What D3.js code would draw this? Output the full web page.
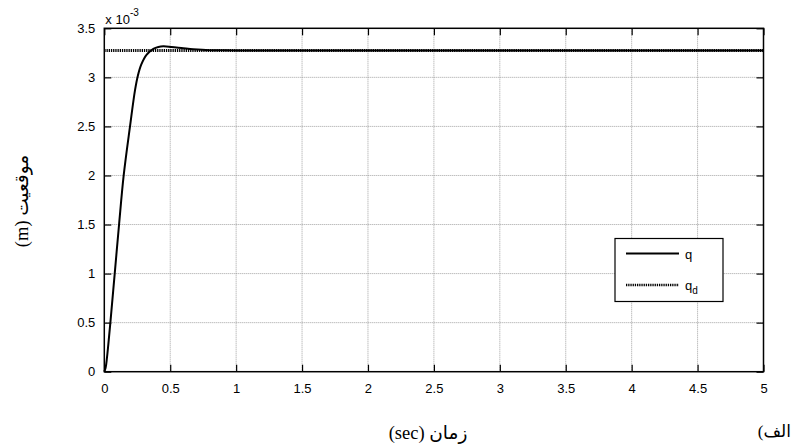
<!DOCTYPE html>
<html>
<head>
<meta charset="utf-8">
<script src="https://cdn.jsdelivr.net/npm/d3@7"></script>
<style>
  body { margin: 0; background: #fff; }
  svg { display: block; }
  .tick text { font-family: "Liberation Sans", Arial, sans-serif; font-size: 13px; fill: #000; }
</style>
</head>
<body>
<figure id="plot" style="margin:0"></figure>
<script>
// time (s) and position (x 1e-3 m)
const time = [0, 0.01, 0.02, 0.03, 0.046, 0.079, 0.112, 0.147, 0.195, 0.233, 0.255, 0.28, 0.32, 0.372, 0.41, 0.448, 0.51, 0.6, 0.675, 0.8, 1.0, 5];
const qValues = [0, 0.04, 0.14, 0.27, 0.5, 1.0, 1.5, 2.0, 2.5, 2.87, 3.02, 3.13, 3.23, 3.29, 3.31, 3.317, 3.31, 3.297, 3.287, 3.277, 3.275, 3.275];
const qdTime = [0, 5];
const qdValues = [3.275, 3.275];
const xTicks = [0, 0.5, 1, 1.5, 2, 2.5, 3, 3.5, 4, 4.5, 5];
const yTicks = [0, 0.5, 1, 1.5, 2, 2.5, 3, 3.5];
const legendLabels = ['q', 'q'];

const width = 792, height = 448;
const marginLeft = 104.3, marginRight = 28.5, marginTop = 28.3, marginBottom = 76.3;

const svg = d3.select('figure#plot')
  .append('svg')
  .attr('width', width)
  .attr('height', height);

const x = d3.scaleLinear().domain([0, 5]).range([marginLeft, width - marginRight]);
const y = d3.scaleLinear().domain([0, 3.5]).range([height - marginBottom, marginTop]);

// grid
const grid = svg.append('g')
  .attr('stroke', '#8a8a8a')
  .attr('stroke-width', 0.8)
  .attr('stroke-dasharray', '1,1');
grid.selectAll('line.gx')
  .data(xTicks.slice(1, -1))
  .join('line')
  .attr('x1', d => x(d)).attr('x2', d => x(d))
  .attr('y1', y(0)).attr('y2', y(3.5));
grid.selectAll('line.gy')
  .data(yTicks.slice(1, -1))
  .join('line')
  .attr('class', 'gy')
  .attr('x1', x(0)).attr('x2', x(5))
  .attr('y1', d => y(d)).attr('y2', d => y(d));

// axes with inward ticks
const fmt = d => String(d);
svg.append('g')
  .attr('transform', `translate(0, ${y(0)})`)
  .call(d3.axisBottom(x).tickValues(xTicks).tickFormat(fmt).tickSize(-7).tickPadding(12).tickSizeOuter(0))
  .call(g => g.select('.domain').remove());
svg.append('g')
  .attr('transform', `translate(${x(0)}, 0)`)
  .call(d3.axisLeft(y).tickValues(yTicks).tickFormat(fmt).tickSize(-7).tickPadding(9).tickSizeOuter(0))
  .call(g => g.select('.domain').remove());
svg.append('g')
  .attr('transform', `translate(0, ${y(3.5)})`)
  .call(d3.axisTop(x).tickValues(xTicks).tickFormat('').tickSize(-7).tickSizeOuter(0))
  .call(g => g.select('.domain').remove());
svg.append('g')
  .attr('transform', `translate(${x(5)}, 0)`)
  .call(d3.axisRight(y).tickValues(yTicks).tickFormat('').tickSize(-7).tickSizeOuter(0))
  .call(g => g.select('.domain').remove());
svg.selectAll('.tick line').attr('stroke', '#000').attr('stroke-width', 1.2);

// frame
svg.append('rect')
  .attr('x', x(0)).attr('y', y(3.5))
  .attr('width', x(5) - x(0)).attr('height', y(0) - y(3.5))
  .attr('fill', 'none').attr('stroke', '#000').attr('stroke-width', 1.5);

// exponent
const expo = svg.append('text')
  .attr('x', x(0) + 1).attr('y', y(3.5) - 4)
  .attr('font-family', '"Liberation Sans", Arial, sans-serif')
  .attr('font-size', 13);
expo.append('tspan').text('x 10');
expo.append('tspan').attr('dy', -8).attr('font-size', 10).text('-3');

// lines
svg.append('path')
  .datum(qdTime.map((t, i) => [t, qdValues[i]]))
  .attr('fill', 'none')
  .attr('stroke', '#000')
  .attr('stroke-width', 3)
  .attr('stroke-dasharray', '1.3,0.9')
  .attr('d', d3.line().x(d => x(d[0])).y(d => y(d[1])));

svg.append('path')
  .datum(time.map((t, i) => [t, qValues[i]]))
  .attr('fill', 'none')
  .attr('stroke', '#000')
  .attr('stroke-width', 2)
  .attr('d', d3.line().curve(d3.curveCatmullRom).x(d => x(d[0])).y(d => y(d[1])));

// legend
const lg = svg.append('g').attr('transform', 'translate(615, 238.5)');
lg.append('rect')
  .attr('width', 108).attr('height', 63)
  .attr('fill', '#fff').attr('stroke', '#000').attr('stroke-width', 1.2);
lg.append('line')
  .attr('x1', 11).attr('x2', 64).attr('y1', 15).attr('y2', 15)
  .attr('stroke', '#000').attr('stroke-width', 2);
lg.append('line')
  .attr('x1', 11).attr('x2', 64).attr('y1', 46.5).attr('y2', 46.5)
  .attr('stroke', '#000').attr('stroke-width', 2.5).attr('stroke-dasharray', '1.3,0.9');
lg.selectAll('text.lab')
  .data(legendLabels)
  .join('text')
  .attr('x', 70)
  .attr('y', (d, i) => i === 0 ? 20 : 51)
  .attr('font-family', '"Liberation Sans", Arial, sans-serif')
  .attr('font-size', 13)
  .text(d => d)
  .filter((d, i) => i === 1)
  .append('tspan').attr('dy', 4).attr('font-size', 10).text('d');

// axis titles (persian, right-to-left)
const serif = '"Liberation Serif", "Times New Roman", "DejaVu Sans", serif';
svg.append('text')
  .attr('x', 428).attr('y', 439)
  .attr('text-anchor', 'middle')
  .attr('direction', 'rtl')
  .attr('font-family', serif)
  .attr('font-size', 18.5)
  .text('زمان (sec)');

svg.append('text')
  .attr('transform', 'translate(28, 201) rotate(-90)')
  .attr('text-anchor', 'middle')
  .attr('direction', 'rtl')
  .attr('font-family', serif)
  .attr('font-size', 18.5)
  .text('موقعیت (m)');

svg.append('text')
  .attr('x', 791).attr('y', 437)
  .attr('text-anchor', 'start')
  .attr('direction', 'rtl')
  .attr('font-family', serif)
  .attr('font-size', 17)
  .text('الف)');
</script>
</body>
</html>
